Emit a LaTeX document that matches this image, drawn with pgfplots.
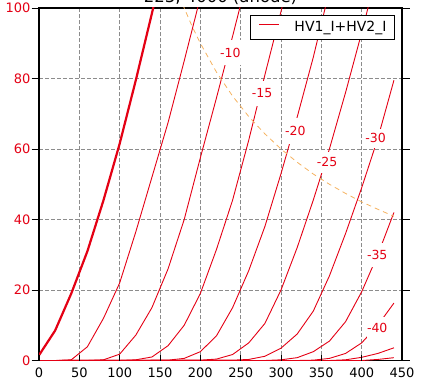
\documentclass[border=0pt]{standalone}
\usepackage{pgfplots}
\pgfplotsset{compat=1.18}
\usepackage{fontspec}
\setmainfont{DejaVu Sans}
\definecolor{cr}{RGB}{228,0,20}
\definecolor{pd}{RGB}{245,178,95}
\begin{document}
\begin{tikzpicture}
\begin{axis}[
  name=ax,
  scale only axis, width=363pt, height=352.5pt,
  xmin=0, xmax=450, ymin=0, ymax=100,
  xtick={0,50,...,450}, ytick={0,20,...,100},
  tick align=outside,
  ytick pos=both, yticklabel pos=left,
  xtick pos=bottom,
  x tick style={draw=none},
  y tick style={black, line width=0.8pt},
  major tick length=7.5pt,
  grid=major,
  grid style={black!45, dash pattern=on 4pt off 2pt, line width=0.5pt},
  axis line style={black, line width=1.2pt},
  tick label style={font=\fontsize{13}{15}\selectfont},
  yticklabel style={text=cr, xshift=2.5pt},
  xticklabel style={yshift=4pt},
  /pgf/number format/assume math mode=true,
  legend style={at={(1,1)}, anchor=north east, xshift=-7pt, yshift=-7pt,
    draw=black, line width=1pt, fill=white,
    font=\fontsize{14}{16}\selectfont,
    inner xsep=8pt, inner ysep=6pt,
    nodes={inner sep=0pt, text depth=0.2em},
    /tikz/every odd column/.append style={column sep=15pt}},
  legend cell align=left,
  legend image code/.code={\draw[#1] (0pt,0.3em) -- (20pt,0.3em);},
]
% grid -5
\addplot[cr, line width=0.9pt] coordinates {(0,0)(20,0)(40,0.2)(60,3.9)(80,12)(100,22)(120,36.5)(140,52)(160,67.5)(180,85)(200,103)};
\addlegendentry{HV1\_I+HV2\_I}
% grid 0 (thick)
\addplot[cr, line width=2.2pt, forget plot] coordinates {(0,1.5)(20,8.5)(40,19)(60,31)(80,45.5)(100,61.5)(120,79.5)(140,98.5)(160,118)};
% -10
\addplot[cr, line width=0.9pt, forget plot] coordinates {(0,0)(60,0)(80,0.2)(100,1.8)(120,7.2)(140,15)(160,26)(180,40)(200,57.5)(220,74.5)(240,92)(260,110)};
% -15
\addplot[cr, line width=0.9pt, forget plot] coordinates {(0,0)(100,0)(120,0.2)(140,1.0)(160,4.2)(180,10)(200,19)(220,31.5)(240,45.5)(260,62.5)(280,81)(300,99)(320,118)};
% -20
\addplot[cr, line width=0.9pt, forget plot] coordinates {(0,0)(160,0.1)(180,0.6)(200,2.5)(220,7)(240,15)(260,25.5)(280,38)(300,53)(320,69)(340,86)(360,105)};
% -25
\addplot[cr, line width=0.9pt, forget plot] coordinates {(0,0)(200,0.1)(220,0.4)(240,1.7)(260,5)(280,10.5)(300,20)(320,32)(340,45.5)(360,60)(380,76)(400,93)(420,111)};
% -30
\addplot[cr, line width=0.9pt, forget plot] coordinates {(0,0)(240,0.1)(260,0.3)(280,1.2)(300,3.5)(320,7.5)(340,14)(360,24)(380,36)(400,49)(420,63)(440,79.5)};
% -35
\addplot[cr, line width=0.9pt, forget plot] coordinates {(0,0)(280,0)(300,0.2)(320,0.8)(340,2.5)(360,5.5)(380,11)(400,19.5)(420,30)(440,42)};
% -40
\addplot[cr, line width=0.9pt, forget plot] coordinates {(0,0)(320,0)(340,0.1)(360,0.6)(380,2)(400,5)(420,10)(440,16.3)};
% -45
\addplot[cr, line width=0.9pt, forget plot] coordinates {(0,0)(360,0)(380,0.2)(400,0.9)(420,2)(440,3.6)};
% -50
\addplot[cr, line width=0.9pt, forget plot] coordinates {(0,0)(400,0)(420,0.3)(440,0.8)};
% max dissipation
\addplot[pd, line width=0.8pt, dash pattern=on 5pt off 4pt, forget plot] coordinates {(170,105.9)(180,100)(190,94.7)(200,90)(220,81.8)(240,75)(260,69.2)(280,64.3)(300,60)(320,56.25)(340,52.9)(360,50)(380,47.4)(400,45)(420,42.9)(440,40.9)};
% contour labels
\tikzset{clab/.style={fill=white, text=cr, inner xsep=0.5pt, font=\fontsize{12.5}{14}\selectfont}}
\node[clab, inner ysep=8pt] at (axis cs:237.2,87.3) {-10};
\node[clab, inner ysep=8pt] at (axis cs:276.5,75.8) {-15};
\node[clab, inner ysep=8pt] at (axis cs:317.9,65.1) {-20};
\node[clab, inner ysep=5.5pt] at (axis cs:357.2,56.2) {-25};
\node[clab, inner ysep=4.5pt] at (axis cs:417.2,63) {-30};
\node[clab, inner ysep=7pt] at (axis cs:419.3,29.9) {-35};
\node[clab, inner ysep=7pt] at (axis cs:419.3,9.1) {-40};
\end{axis}
\begin{axis}[
  scale only axis, width=363pt, height=352.5pt,
  at={(ax.south west)}, anchor=south west,
  xmin=0, xmax=450, ymin=0, ymax=100,
  xtick={0,50,...,450}, ytick=\empty,
  tick align=inside, xtick pos=bottom,
  xticklabel={\phantom{0}},
  major tick length=5.5pt,
  axis line style={draw=none},
  x tick style={black, line width=0.8pt},
]
\end{axis}
\node[anchor=base, font=\fontsize{16.5}{18}\selectfont] at ([yshift=5pt]ax.north) {223, 4000 (anode)};
\pgfresetboundingbox
\path[use as bounding box] ([xshift=-39pt,yshift=-21.5pt]ax.south west) rectangle ([xshift=21pt,yshift=8pt]ax.north east);
\end{tikzpicture}
\end{document}
